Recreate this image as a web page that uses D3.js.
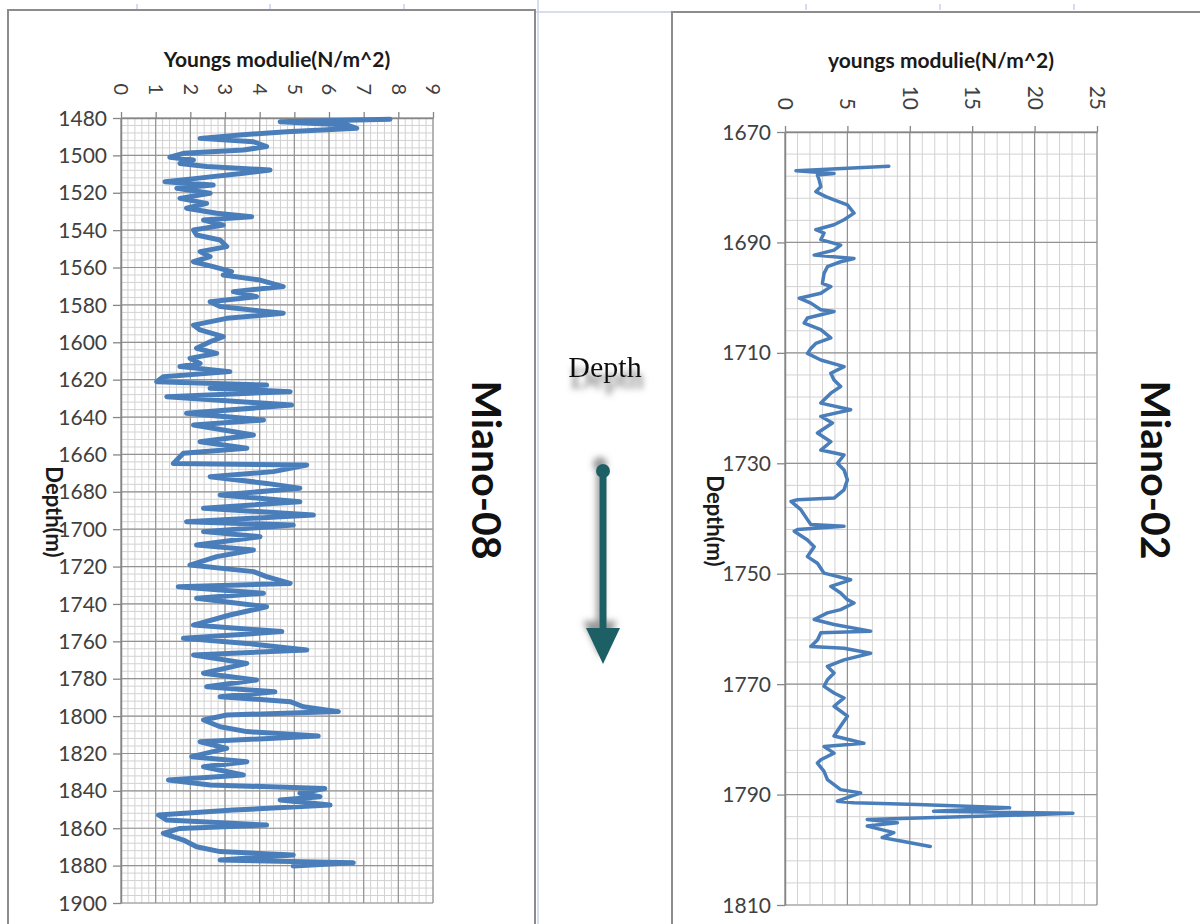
<!DOCTYPE html>
<html>
<head>
<meta charset="utf-8">
<script src="https://cdn.jsdelivr.net/npm/d3@7"></script>
<style>
body{margin:0;background:#fff;}
svg{display:block;font-family:Lato,"Open Sans",sans-serif;}
</style>
</head>
<body>
<svg id="chart" width="1200" height="924"></svg>
<script>
// Miano-08 log (depth m / youngs modulus)
const miano08Depth=[
1480.7,1482.0,1483.7,1485.5,1487.3,1489.1,1490.9,1492.7,1495.3,1497.1,
1498.9,1501.0,1502.5,1504.3,1506.0,1507.8,1509.6,1512.3,1514.1,1515.9,
1517.6,1520.3,1523.0,1525.7,1528.3,1531.0,1532.8,1534.6,1537.3,1539.9,
1542.6,1545.3,1548.8,1551.5,1554.2,1556.9,1559.5,1562.2,1564.0,1566.7,
1570.2,1572.9,1575.6,1578.3,1580.9,1584.5,1587.2,1590.8,1593.4,1597.0,
1599.7,1603.2,1605.9,1608.6,1611.3,1613.0,1615.7,1618.4,1621.1,1622.9,
1624.6,1626.4,1629.1,1633.6,1638.0,1641.6,1644.3,1649.6,1653.2,1656.7,
1659.4,1664.8,1665.7,1669.2,1671.9,1675.5,1678.1,1681.7,1685.3,1688.8,
1692.4,1696.0,1697.8,1701.3,1704.0,1708.5,1711.1,1714.7,1719.2,1722.7,
1725.4,1729.0,1730.8,1734.3,1737.0,1741.5,1745.9,1751.3,1754.8,1758.4,
1761.1,1764.6,1767.3,1771.8,1777.1,1780.7,1784.3,1787.0,1789.6,1792.3,
1795.0,1797.6,1799.4,1802.1,1805.7,1808.3,1810.7,1813.7,1817.3,1821.7,
1824.4,1827.1,1831.5,1834.2,1836.9,1838.7,1841.3,1843.1,1844.9,1847.6,
1850.3,1852.9,1855.6,1858.3,1860.1,1862.7,1866.3,1869.9,1872.5,1874.3,
1877.0,1878.4,1880.2];
const miano08Ym=[
7.76,4.59,6.51,6.80,4.78,3.43,2.28,3.82,4.20,3.53,
1.80,1.41,2.09,1.70,2.47,4.30,3.53,2.18,1.27,2.66,
1.61,2.57,1.70,2.47,1.89,2.76,3.77,2.38,2.95,2.09,
2.18,2.86,3.05,2.28,2.57,2.09,2.66,3.19,2.95,4.01,
4.68,3.24,3.91,2.57,2.86,4.68,3.05,2.09,2.28,2.95,
2.57,2.18,2.76,1.99,2.28,1.70,3.14,1.22,1.03,4.20,
2.57,4.88,1.32,4.92,1.89,4.11,2.09,3.82,2.28,3.63,
1.80,1.51,5.36,4.39,2.57,4.20,5.16,2.86,5.16,2.38,
5.55,1.89,4.97,2.38,4.01,2.18,3.82,2.76,1.99,3.82,
4.20,4.88,1.65,4.11,2.18,4.20,3.14,2.09,4.64,1.80,
3.63,5.36,2.09,3.63,2.38,3.91,2.47,4.44,2.86,4.88,
5.26,6.27,3.05,2.38,2.86,3.63,5.69,2.28,3.05,2.04,
3.63,2.38,3.53,1.37,2.57,5.88,5.16,5.74,4.59,6.03,
3.24,1.08,1.32,4.20,1.70,1.22,1.80,2.18,2.86,4.97,
2.86,6.70,4.97];

// Miano-02 log
const miano02Depth=[
1676.2,1677.0,1677.5,1677.8,1678.7,1679.9,1680.8,1681.7,1682.3,1683.2,
1684.7,1685.9,1686.8,1687.7,1688.3,1689.5,1690.5,1691.4,1692.3,1692.9,
1693.5,1694.4,1695.6,1697.4,1698.0,1699.2,1700.1,1701.0,1702.2,1702.5,
1703.7,1704.6,1705.8,1707.3,1708.3,1709.2,1710.1,1711.3,1712.5,1713.7,
1714.9,1716.1,1717.3,1719.1,1720.3,1721.5,1722.7,1724.5,1726.1,1727.6,
1728.5,1730.0,1731.2,1733.0,1734.8,1736.3,1736.6,1736.9,1738.4,1740.2,
1741.1,1741.4,1742.0,1742.3,1743.9,1745.1,1746.9,1748.1,1749.9,1751.1,
1752.3,1753.5,1754.7,1755.3,1756.5,1757.1,1758.3,1759.2,1760.4,1760.7,
1762.0,1763.2,1763.5,1764.4,1765.6,1766.8,1768.0,1769.2,1770.4,1771.6,
1772.5,1774.0,1775.8,1777.6,1779.4,1780.7,1781.3,1782.5,1783.7,1784.3,
1785.8,1787.3,1789.1,1789.7,1791.2,1791.5,1791.8,1792.4,1793.0,1793.4,
1793.9,1794.5,1795.1,1795.7,1796.3,1796.9,1797.8,1798.5,1799.4];
const miano02Ym=[
8.32,0.88,3.93,2.6,2.74,2.87,2.47,3.27,3.93,5.0,
5.53,4.73,3.93,2.47,3.13,2.87,4.46,3.93,2.34,5.53,
4.46,3.4,3.13,3.0,3.67,2.87,1.14,2.07,2.87,3.93,
1.8,1.54,2.87,3.67,2.47,2.07,1.8,2.87,4.73,3.67,
3.93,4.46,3.67,2.87,5.26,2.87,3.8,2.6,3.67,2.87,
4.73,4.2,4.73,5.0,4.73,3.93,1.0,0.48,1.27,1.8,
2.07,4.73,1.0,0.74,1.8,2.34,1.8,2.6,3.13,5.26,
3.67,4.46,5.0,5.53,4.46,3.4,2.34,3.93,6.86,2.87,
2.6,2.07,4.73,6.86,4.73,3.4,3.93,3.4,3.13,3.93,
4.73,3.93,5.0,4.46,3.93,6.32,3.13,3.93,2.87,2.6,
3.13,3.4,4.46,6.06,4.2,5.53,10.58,18.0,11.9,23.07,
16.16,6.59,9.0,6.59,7.65,8.72,7.79,9.5,11.64];

// tick labels
const xTicks08=[0,1,2,3,4,5,6,7,8,9];
const yTicks08=[1480,1500,1520,1540,1560,1580,1600,1620,1640,1660,1680,1700,1720,1740,1760,1780,1800,1820,1840,1860,1880,1900];
const xTicks02=[0,5,10,15,20,25];
const yTicks02=[1670,1690,1710,1730,1750,1770,1790,1810];

const svg=d3.select('#chart');
const defs=svg.append('defs');

function shadowFilter(id,dx,dy,sd,col,op){
    let f=defs.append('filter').attr('id',id)
        .attr('x','-60%').attr('y','-60%').attr('width','220%').attr('height','220%');
    f.append('feGaussianBlur').attr('in','SourceAlpha').attr('stdDeviation',sd).attr('result','blur');
    f.append('feOffset').attr('in','blur').attr('dx',dx).attr('dy',dy).attr('result','off');
    f.append('feFlood').attr('flood-color',col).attr('flood-opacity',op).attr('result','c');
    f.append('feComposite').attr('in','c').attr('in2','off').attr('operator','in').attr('result','sh');
    let m=f.append('feMerge');
    m.append('feMergeNode').attr('in','sh');
    m.append('feMergeNode').attr('in','SourceGraphic');
}
shadowFilter('txtShadow',2,11,3,'#666',1);
shadowFilter('arrShadow',-3,-7,3,'#777',0.75);

// faint sheet gridlines behind everything
let sheet=svg.append('g').attr('stroke','#c8d2e6').attr('stroke-width',1.5);
sheet.append('line').attr('x1',538).attr('x2',538).attr('y1',0).attr('y2',924);
sheet.append('line').attr('x1',536).attr('x2',672).attr('y1',12).attr('y2',12);
[137,270,404,806,940,1074].forEach(c=>{
    sheet.append('line').attr('x1',c).attr('x2',c).attr('y1',4).attr('y2',10);
});

// chart frames
svg.append('rect').attr('x',8).attr('y',10).attr('width',527).attr('height',940)
    .attr('fill','none').attr('stroke','#8c8c8c').attr('stroke-width',2);
svg.append('rect').attr('x',672).attr('y',12).attr('width',600).attr('height',940)
    .attr('fill','none').attr('stroke','#8c8c8c').attr('stroke-width',2);

function drawLog(o){
    let g=svg.append('g');
    let x=d3.scaleLinear().domain(o.xDomain).range([o.left,o.right]);
    let y=d3.scaleLinear().domain(o.yDomain).range([o.top,o.bottom]);

    // minor grid
    let grid=g.append('g');
    grid.selectAll('.vmin').data(d3.range(o.xDomain[0],o.xDomain[1]+1e-6,o.xMinor)).enter()
        .append('line').attr('class','vmin')
        .attr('x1',d=>x(d)).attr('x2',d=>x(d)).attr('y1',o.top).attr('y2',o.bottom)
        .attr('stroke','#d2d2d2').attr('stroke-width',1);
    grid.selectAll('.hmin').data(d3.range(o.yDomain[0],o.yDomain[1]+1e-6,o.yMinor)).enter()
        .append('line').attr('class','hmin')
        .attr('y1',d=>y(d)).attr('y2',d=>y(d)).attr('x1',o.left).attr('x2',o.right)
        .attr('stroke','#d2d2d2').attr('stroke-width',1);
    // major grid
    grid.selectAll('.vmaj').data(o.xTicks).enter().append('line').attr('class','vmaj')
        .attr('x1',d=>x(d)).attr('x2',d=>x(d)).attr('y1',o.top).attr('y2',o.bottom)
        .attr('stroke','#939393').attr('stroke-width',1.2);
    grid.selectAll('.hmaj').data(o.yTicks).enter().append('line').attr('class','hmaj')
        .attr('y1',d=>y(d)).attr('y2',d=>y(d)).attr('x1',o.left).attr('x2',o.right)
        .attr('stroke','#939393').attr('stroke-width',1.2);

    // axes
    let ax=g.append('g').attr('transform','translate(0,'+o.top+')')
        .call(d3.axisTop(x).tickValues(o.xTicks).tickSize(6).tickSizeOuter(0));
    ax.selectAll('text')
        .attr('transform','rotate(90)')
        .attr('x',-o.xLabGap).attr('y',0).attr('dy','0.36em')
        .attr('text-anchor','end')
        .style('font-size',o.xFont+'px');
    let ay=g.append('g').attr('transform','translate('+o.left+',0)')
        .call(d3.axisLeft(y).tickValues(o.yTicks).tickFormat(d3.format('d'))
            .tickSize(8).tickPadding(6).tickSizeOuter(0));
    ay.selectAll('text').style('font-size','21px').attr('dy','0.34em');
    [ax,ay].forEach(a=>{
        a.attr('font-family',null);
        a.select('.domain').attr('stroke','#868686').attr('stroke-width',1.5);
        a.selectAll('line').attr('stroke','#868686').attr('stroke-width',1.3);
        a.selectAll('text').attr('fill','#404040');
    });

    // the log curve
    let pts=d3.zip(o.depth,o.ym);
    let line=d3.line().x(d=>x(d[1])).y(d=>y(d[0]));
    g.append('path').datum(pts).attr('d',line)
        .attr('fill','none').attr('stroke','#4a7ebb')
        .attr('stroke-width',o.lw).attr('stroke-linejoin','round').attr('stroke-linecap','round');

    // titles
    g.append('text').attr('x',o.titleX).attr('y',o.titleY).attr('text-anchor','middle')
        .attr('font-weight','bold').attr('font-size',21).attr('fill','#1a1a1a').text(o.xTitle);
    g.append('text').attr('transform','translate('+o.depthX+','+o.depthY+') rotate(90)')
        .attr('text-anchor','middle').attr('font-weight','bold').attr('font-size',22)
        .attr('fill','#1a1a1a').text('Depth(m)');
    g.append('text').attr('transform','translate('+o.nameX+',470) rotate(90)')
        .attr('text-anchor','middle').attr('font-weight','bold').attr('font-size',41)
        .attr('fill','#111').text(o.name);
}

drawLog({
    depth:miano08Depth, ym:miano08Ym,
    xDomain:[0,9], yDomain:[1480,1900], xTicks:xTicks08, yTicks:yTicks08,
    xMinor:0.2, yMinor:4,
    left:121, right:433, top:118, bottom:903,
    xLabGap:23, xFont:20, lw:5,
    xTitle:'Youngs modulie(N/m^2)', titleX:277, titleY:67,
    depthX:46, depthY:512, name:'Miano-08', nameX:472
});
drawLog({
    depth:miano02Depth, ym:miano02Ym,
    xDomain:[0,25], yDomain:[1670,1810], xTicks:xTicks02, yTicks:yTicks02,
    xMinor:1, yMinor:4,
    left:785, right:1097, top:132, bottom:905,
    xLabGap:22, xFont:21, lw:3.5,
    xTitle:'youngs modulie(N/m^2)', titleX:941, titleY:68,
    depthX:707, depthY:521, name:'Miano-02', nameX:1141
});

// depth arrow in the middle
svg.append('text').attr('x',605).attr('y',377).attr('text-anchor','middle')
    .attr('font-family','"Liberation Serif","DejaVu Serif",serif').attr('font-size',30)
    .attr('fill','#111').attr('filter','url(#txtShadow)').text('Depth');
let arr=svg.append('g').attr('fill','#1e6166').attr('stroke','#1e6166').attr('filter','url(#arrShadow)');
arr.append('line').attr('x1',603).attr('x2',603).attr('y1',471).attr('y2',632).attr('stroke-width',7);
arr.append('circle').attr('cx',603).attr('cy',471).attr('r',7).attr('stroke','none');
arr.append('path').attr('d','M586,628L620,628L603,664Z').attr('stroke','none');
</script>
</body>
</html>
